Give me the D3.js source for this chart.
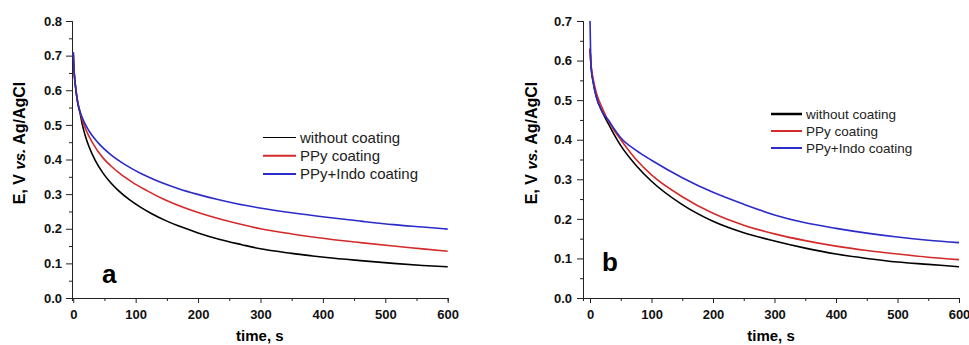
<!DOCTYPE html>
<html>
<head>
<meta charset="utf-8">
<script src="https://cdn.jsdelivr.net/npm/d3@7"></script>
<style>
    body { margin: 0; background: #fff; }
    svg { display: block; font-family: "Liberation Sans", Arial, sans-serif; }
    .axis path, .axis line { stroke: #222; stroke-width: 1; }
    .axis text { font-size: 13px; font-weight: bold; fill: #111; }
</style>
</head>
<body>
<svg id="chart" width="969" height="345" viewBox="0 0 969 345"></svg>
<script>
// series names / colours
const seriesNames = ["without coating", "PPy coating", "PPy+Indo coating"]
const seriesColors = ["#000000", "#d42a2a", "#2b2bc8"]

// panel a
const timesBlackA = [0, 1, 2, 4, 7, 11, 15, 20, 25, 35, 48, 60, 72, 90, 107, 125, 150, 175, 200, 235, 270, 300, 350, 406, 460, 513, 560, 600]
const blackA = [0.71, 0.665, 0.64, 0.605, 0.565, 0.533, 0.497, 0.464, 0.438, 0.398, 0.36, 0.333, 0.311, 0.284, 0.263, 0.244, 0.222, 0.204, 0.188, 0.169, 0.154, 0.142, 0.129, 0.117, 0.108, 0.100, 0.094, 0.090]
const timesRedA = [0, 1, 2, 4, 7, 11, 15, 20, 30, 48, 60, 75, 95, 118, 145, 176, 205, 235, 270, 300, 350, 406, 460, 513, 560, 600]
const redA = [0.71, 0.665, 0.64, 0.605, 0.567, 0.536, 0.511, 0.487, 0.451, 0.404, 0.382, 0.359, 0.334, 0.310, 0.285, 0.262, 0.244, 0.228, 0.212, 0.200, 0.185, 0.171, 0.160, 0.150, 0.142, 0.135]
const timesBlueA = [0, 1, 2, 4, 7, 11, 17, 25, 40, 60, 83, 110, 139, 170, 198, 230, 260, 299, 350, 406, 460, 513, 560, 600]
const blueA = [0.71, 0.665, 0.64, 0.605, 0.567, 0.538, 0.510, 0.483, 0.448, 0.414, 0.385, 0.358, 0.335, 0.315, 0.300, 0.285, 0.273, 0.260, 0.246, 0.233, 0.222, 0.212, 0.205, 0.199]

// panel b
const timesB = [0, 1, 2, 5, 10, 20, 30, 40, 50, 75, 100, 150, 200, 250, 300, 350, 400, 450, 500, 550, 600]
const blackB = [0.63, 0.60, 0.58, 0.547, 0.51, 0.47, 0.44, 0.411, 0.385, 0.335, 0.295, 0.236, 0.194, 0.165, 0.144, 0.126, 0.111, 0.1, 0.091, 0.085, 0.079]
const redB   = [0.63, 0.605, 0.585, 0.555, 0.52, 0.48, 0.447, 0.422, 0.40, 0.35, 0.311, 0.256, 0.214, 0.184, 0.162, 0.145, 0.131, 0.12, 0.111, 0.103, 0.097]
const blueB  = [0.70, 0.62, 0.58, 0.547, 0.51, 0.47, 0.449, 0.426, 0.405, 0.373, 0.348, 0.304, 0.267, 0.237, 0.21, 0.19, 0.176, 0.164, 0.154, 0.146, 0.14]

// ticks
const xTicks = [0, 100, 200, 300, 400, 500, 600]
const xMinor = [50, 150, 250, 350, 450, 550]
const yTicksA = [0, 0.1, 0.2, 0.3, 0.4, 0.5, 0.6, 0.7, 0.8]
const yTicksB = [0, 0.1, 0.2, 0.3, 0.4, 0.5, 0.6, 0.7]

let svg = d3.select("#chart")

function drawPanel(p)
{
    let x = d3.scaleLinear().domain([p.xMin, 600]).range([p.left, p.right])
    let y = d3.scaleLinear().domain([0, p.yMax]).range([298, 21])

    let g = svg.append("g")

    // minor ticks (no labels)
    let yMinor = d3.range(0.05, p.yMax, 0.1)
    g.append("g").attr("class", "axis")
        .attr("transform", `translate(${p.left},0)`)
        .call(d3.axisLeft(y).tickValues(yMinor).tickSize(3).tickFormat(""))
    g.append("g").attr("class", "axis")
        .attr("transform", "translate(0,298)")
        .call(d3.axisBottom(x).tickValues(xMinor).tickSize(3).tickFormat(""))

    // major axes
    g.append("g").attr("class", "axis")
        .attr("transform", `translate(${p.left},0)`)
        .call(d3.axisLeft(y).tickValues(p.yTicks).tickSize(6).tickPadding(p.yPad).tickFormat(d3.format(".1f")))
    g.append("g").attr("class", "axis")
        .attr("transform", "translate(0,298)")
        .call(d3.axisBottom(x).tickValues(xTicks).tickSize(5).tickPadding(7).tickSizeOuter(0))

    // curves
    let line = d3.line()
        .x(function (d) { return x(d[0]) })
        .y(function (d) { return y(d[1]) })
        .curve(d3.curveMonotoneX)
    p.series.forEach(function (vals, i) {
        let times = p.times[i]
        g.append("path")
            .datum(times.map(function (t, j) { return [t, vals[j]] }))
            .attr("fill", "none")
            .attr("stroke", seriesColors[i])
            .attr("stroke-width", 1.6)
            .attr("d", line)
    })

    // axis titles
    let yt = g.append("text")
        .attr("transform", `translate(${p.yTitleX},143) rotate(-90)`)
        .attr("text-anchor", "middle")
        .style("font-size", "16px").style("font-weight", "bold")
    yt.append("tspan").text("E, V ")
    yt.append("tspan").style("font-style", "italic").style("font-size", "15px").text("vs.")
    yt.append("tspan").text(" Ag/AgCl")

    g.append("text")
        .attr("x", (p.left + p.right) / 2).attr("y", 341)
        .attr("text-anchor", "middle")
        .style("font-size", "15px").style("font-weight", "bold")
        .text("time, s")

    // panel letter
    g.append("text")
        .attr("x", p.letterX).attr("y", p.letterY)
        .style("font-size", "26px").style("font-weight", "bold")
        .text(p.letter)

    // legend
    seriesNames.forEach(function (name, i) {
        let ly = p.legendY + i * p.legendStep
        g.append("line")
            .attr("x1", p.legendX).attr("x2", p.legendX + p.legendLen)
            .attr("y1", ly).attr("y2", ly)
            .attr("stroke", seriesColors[i])
            .attr("stroke-width", p.legendWidths[i])
        g.append("text")
            .attr("x", p.legendX + p.legendLen + 4).attr("y", ly)
            .attr("dy", "0.35em")
            .style("font-size", p.legendFont)
            .style("fill", "#222")
            .text(name)
    })
}

drawPanel({
    left: 72, right: 447.7, xMin: -2, yMax: 0.8, yTicks: yTicksA, yPad: 4,
    times: [timesBlackA, timesRedA, timesBlueA], series: [blackA, redA, blueA],
    yTitleX: 25, letter: "a", letterX: 102, letterY: 283,
    legendX: 263, legendLen: 33, legendY: 137.5, legendStep: 18.2,
    legendFont: "15px", legendWidths: [1, 2, 2]
})

drawPanel({
    left: 583, right: 959, xMin: -11.4, yMax: 0.7, yTicks: yTicksB, yPad: 5,
    times: [timesB, timesB, timesB], series: [blackB, redB, blueB],
    yTitleX: 537, letter: "b", letterX: 602, letterY: 271,
    legendX: 771, legendLen: 31, legendY: 114, legendStep: 17,
    legendFont: "13.5px", legendWidths: [2.5, 2, 2]
})
</script>
</body>
</html>
